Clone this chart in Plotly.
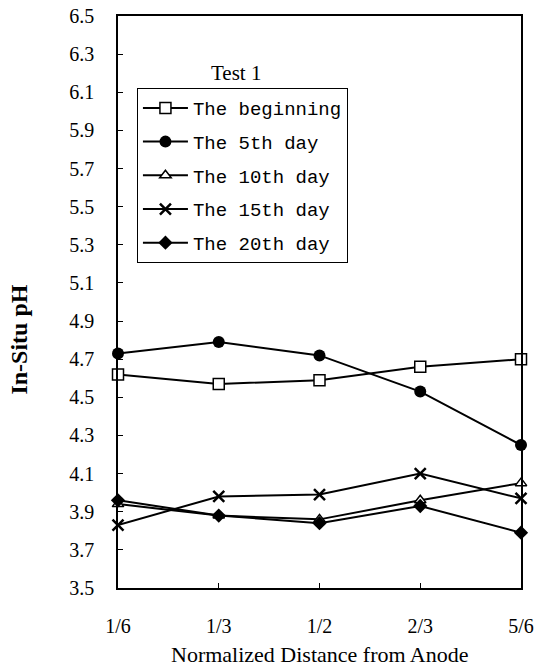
import plotly.graph_objects as go

# Sampling positions along the cell (normalized distance from anode)
positions = ["1/6", "1/3", "1/2", "2/3", "5/6"]

# In-situ pH at each sampling time
ph_beginning = [4.62, 4.57, 4.59, 4.66, 4.70]
ph_day5 = [4.73, 4.79, 4.72, 4.53, 4.25]
ph_day10 = [3.94, 3.88, 3.86, 3.96, 4.05]
ph_day15 = [3.83, 3.98, 3.99, 4.10, 3.97]
ph_day20 = [3.96, 3.88, 3.84, 3.93, 3.79]

y_ticks = [3.5, 3.7, 3.9, 4.1, 4.3, 4.5, 4.7, 4.9, 5.1, 5.3, 5.5, 5.7, 5.9, 6.1, 6.3, 6.5]

series = [
    ("The beginning", ph_beginning, dict(symbol="square", size=11, color="white",
                                         line=dict(color="black", width=1.5))),
    ("The 5th day", ph_day5, dict(symbol="circle", size=12, color="black",
                                  line=dict(color="black", width=0))),
    ("The 10th day", ph_day10, dict(symbol="triangle-up", size=10, color="white",
                                    line=dict(color="black", width=1.5))),
    ("The 15th day", ph_day15, dict(symbol="x-thin", size=11, color="black",
                                    line=dict(color="black", width=2.5))),
    ("The 20th day", ph_day20, dict(symbol="diamond", size=11, color="black",
                                    line=dict(color="black", width=0))),
]

fig = go.Figure()
x_idx = list(range(len(positions)))
for i, (name, vals, marker) in enumerate(series):
    fig.add_trace(go.Scatter(
        x=x_idx, y=vals, name=name, mode="lines+markers",
        legendgroup=f"g{i}",
        line=dict(color="black", width=2),
        marker=marker, cliponaxis=False,
    ))

serif = "Liberation Serif"
fig.update_layout(
    width=534, height=668,
    margin=dict(l=118, r=13, t=16, b=80, autoexpand=False),
    paper_bgcolor="white", plot_bgcolor="white",
    showlegend=True,
    legend=dict(
        x=0.047, y=0.874, xanchor="left", yanchor="top",
        bordercolor="black", borderwidth=1, bgcolor="white",
        font=dict(family="Liberation Mono", size=19, color="black"),
        itemwidth=45, tracegroupgap=6,
    ),
    annotations=[
        dict(text="Test 1", x=0.294, y=0.900, xref="paper", yref="paper",
             xanchor="center", yanchor="middle", showarrow=False,
             font=dict(family=serif, size=21, color="black")),
        dict(text="<b>In-Situ pH</b>", x=-0.246, y=0.434, xref="paper", yref="paper",
             xanchor="center", yanchor="middle", showarrow=False, textangle=-90,
             font=dict(family=serif, size=24, color="black")),
        dict(text="Normalized Distance from Anode", x=0.5, y=-0.117,
             xref="paper", yref="paper", xanchor="center", yanchor="middle",
             showarrow=False, font=dict(family=serif, size=22, color="black")),
    ],
)

fig.update_xaxes(
    range=[0, 4], tickmode="array", tickvals=x_idx, ticktext=positions,
    automargin=False,
    showgrid=False, zeroline=False,
    showline=True, linecolor="black", linewidth=1.5, mirror=True,
    ticks="inside", ticklen=5, tickcolor="black",
    ticklabelstandoff=19,
    tickfont=dict(family=serif, size=20, color="black"),
)
fig.update_yaxes(
    range=[3.5, 6.5], tickmode="array", tickvals=y_ticks,
    ticktext=[f"{v:.1f}" for v in y_ticks],
    automargin=False,
    showgrid=False, zeroline=False,
    showline=True, linecolor="black", linewidth=1.5, mirror=True,
    ticks="inside", ticklen=5, tickcolor="black",
    ticklabelstandoff=18,
    tickfont=dict(family=serif, size=20, color="black"),
)

fig.write_html("out.html")
